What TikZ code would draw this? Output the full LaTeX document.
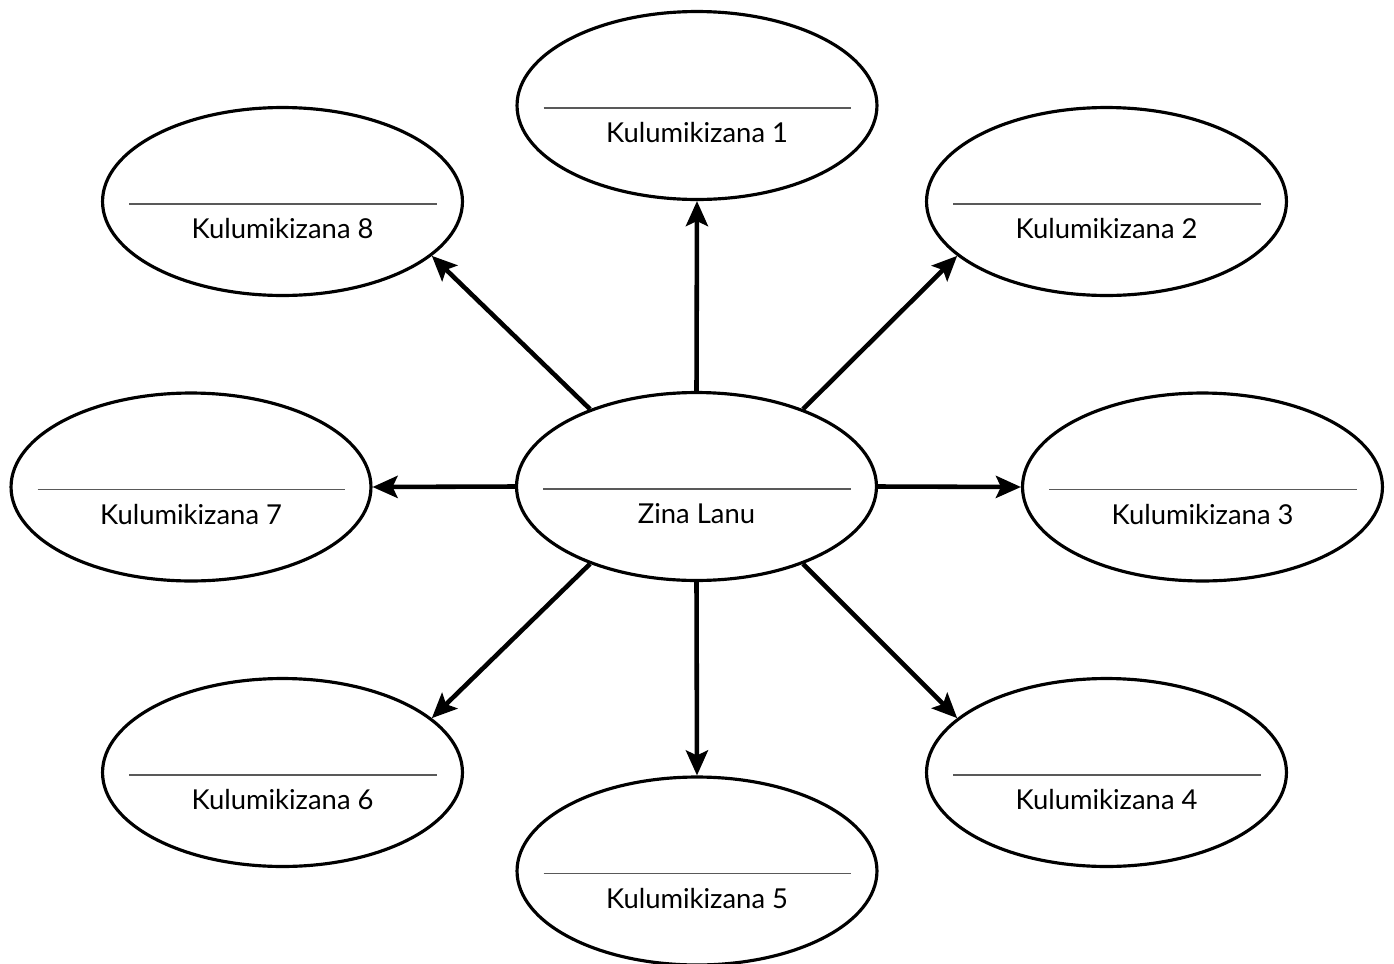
\documentclass[tikz,border=0pt]{standalone}
\usepackage{fontspec}
\setmainfont{Lato}
\usetikzlibrary{arrows.meta,shapes.geometric}

\tikzset{
  bubble/.style={ellipse, draw=black, line width=1.8pt, fill=white,
    minimum width=7.2cm, minimum height=3.76cm, inner sep=0pt},
  bubbletext/.style={font=\fontsize{15.6}{18}\selectfont, inner sep=0pt},
  writeline/.style={draw=black!65, line width=1.1pt},
  spoke/.style={->, line width=2.6pt}
}

\begin{document}
\begin{tikzpicture}[x=0.02cm, y=-0.02cm,
    >={Stealth[length=0.5cm, width=0.44cm, inset=0.1cm]}]
  \useasboundingbox (0,0) rectangle (1394,964);

  % the bubbles
  \node[bubble] (zl) at (696.5,486.5) {};
  \node[bubble] (k1) at (697,105.5) {};
  \node[bubble] (k2) at (1106.5,201.5) {};
  \node[bubble] (k3) at (1202.5,487) {};
  \node[bubble] (k4) at (1106.5,772.5) {};
  \node[bubble] (k5) at (697,871) {};
  \node[bubble] (k6) at (282.5,772.5) {};
  \node[bubble] (k7) at (191,487) {};
  \node[bubble] (k8) at (282.5,201.5) {};

  % a line to write on, and the caption under it
  \foreach \b in {zl,k1,k2,k3,k4,k5,k6,k7,k8}
    \draw[writeline] ([xshift=-3.07cm,yshift=-0.05cm]\b.center) -- ([xshift=3.09cm,yshift=-0.05cm]\b.center);

  \node[bubbletext] (zl-text) at ([yshift=-0.55cm]zl.center) {Zina Lanu};
  \node[bubbletext] (k1-text) at ([yshift=-0.55cm]k1.center) {Kulumikizana 1};
  \node[bubbletext] (k2-text) at ([yshift=-0.55cm]k2.center) {Kulumikizana 2};
  \node[bubbletext] (k3-text) at ([yshift=-0.55cm]k3.center) {Kulumikizana 3};
  \node[bubbletext] (k4-text) at ([yshift=-0.55cm]k4.center) {Kulumikizana 4};
  \node[bubbletext] (k5-text) at ([yshift=-0.55cm]k5.center) {Kulumikizana 5};
  \node[bubbletext] (k6-text) at ([yshift=-0.55cm]k6.center) {Kulumikizana 6};
  \node[bubbletext] (k7-text) at ([yshift=-0.55cm]k7.center) {Kulumikizana 7};
  \node[bubbletext] (k8-text) at ([yshift=-0.55cm]k8.center) {Kulumikizana 8};

  % spokes out of the middle
  \draw[spoke] (zl.90) -- (k1.270);
  \draw[spoke] (zl.36) -- (k2.200);
  \draw[spoke] (zl.0) -- (k3.180);
  \draw[spoke] (zl.-36) -- (k4.160);
  \draw[spoke] (zl.270) -- (k5.90);
  \draw[spoke] (zl.216) -- (k6.20);
  \draw[spoke] (zl.180) -- (k7.0);
  \draw[spoke] (zl.144) -- (k8.340);
\end{tikzpicture}
\end{document}
